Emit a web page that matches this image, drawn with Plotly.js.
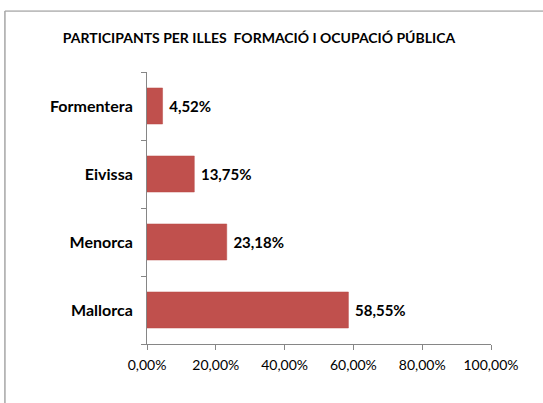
<!DOCTYPE html>
<html>
<head>
<meta charset="utf-8">
<script src="https://cdn.plot.ly/plotly-3.0.1.min.js"></script>
<style>
html,body{margin:0;padding:0;background:#fff;}
#chart{width:543px;height:403px;}
</style>
</head>
<body>
<div id="chart"></div>
<script>
var islands = ["Mallorca", "Menorca", "Eivissa", "Formentera"];
var shares = [0.5855, 0.2318, 0.1375, 0.0452];
var xTicks = [0, 0.2, 0.4, 0.6, 0.8, 1.0];
var chartTitle = "PARTICIPANTS PER ILLES  FORMACIÓ I OCUPACIÓ PÚBLICA";

var FONT = "Lato, 'Open Sans', sans-serif";

var trace = {
  type: "bar",
  orientation: "h",
  y: islands,
  x: shares,
  marker: {color: "#C0504D", line: {color: "#B84A47", width: 0.5}},
  texttemplate: "\u00a0%{x:.2%}",
  textposition: "outside",
  cliponaxis: false,
  textfont: {family: FONT, size: 15, color: "#000", weight: "bold"},
  hoverinfo: "skip"
};

var layout = {
  width: 543,
  height: 403,
  margin: {l: 147, r: 52, t: 72, b: 59},
  paper_bgcolor: "#fff",
  plot_bgcolor: "#fff",
  separators: ",.",
  showlegend: false,
  bargap: 0.47,
  font: {family: FONT, color: "#000"},
  title: {
    text: chartTitle,
    font: {family: FONT, size: 14, color: "#000", weight: "bold"},
    x: 0.477, xanchor: "center",
    y: 1 - 38 / 403, yanchor: "middle"
  },
  xaxis: {
    range: [0, 1],
    tickvals: xTicks,
    tickformat: ".2%",
    showgrid: false,
    zeroline: false,
    showline: true,
    linecolor: "#868686",
    linewidth: 1,
    ticks: "outside",
    ticklen: 5,
    tickcolor: "#868686",
    ticklabelstandoff: 3,
    tickfont: {family: FONT, size: 14, color: "#000"}
  },
  yaxis: {
    type: "category",
    categoryorder: "array",
    categoryarray: islands,
    showgrid: false,
    zeroline: false,
    showline: true,
    linecolor: "#868686",
    linewidth: 1,
    ticks: "outside",
    tickson: "boundaries",
    ticklen: 5,
    tickcolor: "#868686",
    ticklabelstandoff: 10,
    tickfont: {family: FONT, size: 16, color: "#000", weight: "bold"}
  },
  shapes: [
    {type: "line", xref: "paper", yref: "paper", x0: -0.413, x1: 2, y0: 1.224, y1: 1.224,
     line: {color: "#8C8C8C", width: 1}},
    {type: "line", xref: "paper", yref: "paper", x0: -0.413, x1: -0.413, y0: 1.224, y1: -1,
     line: {color: "#A6A6A6", width: 1.5}}
  ]
};

Plotly.newPlot("chart", [trace], layout, {staticPlot: true, displayModeBar: false});
</script>
</body>
</html>
